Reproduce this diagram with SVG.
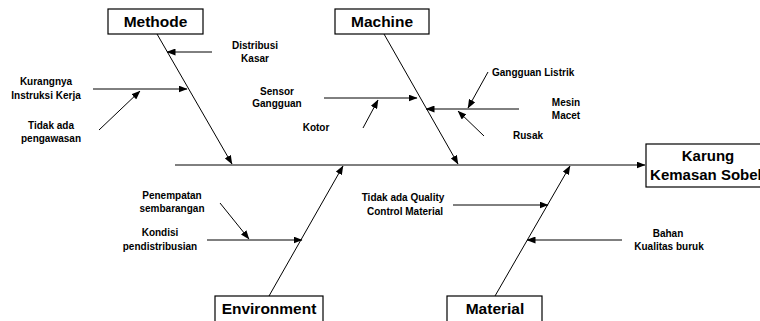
<svg xmlns="http://www.w3.org/2000/svg" width="760" height="321" viewBox="0 0 760 321">
<style>
.box{fill:#fff;stroke:#000;stroke-width:1.2}
.big{font-family:"Liberation Sans",Arial,sans-serif;font-weight:bold;font-size:15.5px;text-anchor:middle;fill:#000}
.eff{font-family:"Liberation Sans",Arial,sans-serif;font-weight:bold;font-size:15px;text-anchor:middle;fill:#000}
.lbl{font-family:"Liberation Sans",Arial,sans-serif;font-weight:bold;font-size:10px;text-anchor:middle;fill:#000}
.ln{stroke:#000;stroke-width:1;fill:none;marker-end:url(#ah)}
</style>
<defs>
<marker id="ah" markerUnits="userSpaceOnUse" markerWidth="9" markerHeight="7" refX="8.5" refY="3.5" orient="auto">
<path d="M0,0 L9,3.5 L0,7 z" fill="#000"/>
</marker>
</defs>
<rect width="760" height="321" fill="#fff"/>
<g id="connectors">
<line class="ln" x1="175" y1="165" x2="645" y2="165"/>
<line class="ln" x1="157" y1="34" x2="232" y2="164"/>
<line class="ln" x1="384" y1="34" x2="458" y2="164"/>
<line class="ln" x1="269" y1="296" x2="343" y2="166"/>
<line class="ln" x1="495" y1="296" x2="570" y2="166"/>
<line class="ln" x1="212" y1="52" x2="167" y2="52"/>
<line class="ln" x1="93" y1="89" x2="187" y2="89"/>
<line class="ln" x1="99" y1="130" x2="140" y2="91"/>
<line class="ln" x1="324" y1="98" x2="417" y2="98"/>
<line class="ln" x1="363" y1="128" x2="378" y2="100"/>
<line class="ln" x1="519" y1="109" x2="426" y2="109"/>
<line class="ln" x1="488" y1="72" x2="468" y2="108"/>
<line class="ln" x1="484" y1="136" x2="458" y2="111"/>
<line class="ln" x1="220" y1="203" x2="249" y2="239"/>
<line class="ln" x1="207" y1="240" x2="302" y2="240"/>
<line class="ln" x1="453" y1="205" x2="548" y2="205"/>
<line class="ln" x1="622" y1="240" x2="527" y2="240"/>
</g>
<g id="methode"><rect class="box" x="108" y="9" width="95" height="25"/><text class="big" x="155.5" y="27">Methode</text></g>
<g id="machine"><rect class="box" x="335" y="9" width="94" height="25"/><text class="big" x="382" y="27">Machine</text></g>
<g id="environment"><rect class="box" x="215" y="296" width="108" height="30"/><text class="big" x="269" y="314">Environment</text></g>
<g id="material"><rect class="box" x="447" y="296" width="95" height="30"/><text class="big" x="495" y="314">Material</text></g>
<g id="effect"><rect class="box" x="646" y="144" width="126" height="43"/><text class="eff" x="708" y="161">Karung</text><text class="eff" x="708" y="180">Kemasan Sobek</text></g>
<g id="distribusi-kasar"><text class="lbl" x="255" y="49">Distribusi</text><text class="lbl" x="255" y="62">Kasar</text></g>
<g id="kurangnya-instruksi"><text class="lbl" x="46" y="85">Kurangnya</text><text class="lbl" x="46" y="99">Instruksi Kerja</text></g>
<g id="tidak-ada-pengawasan"><text class="lbl" x="51" y="129">Tidak ada</text><text class="lbl" x="51" y="142">pengawasan</text></g>
<g id="sensor-gangguan"><text class="lbl" x="277" y="95">Sensor</text><text class="lbl" x="277" y="107">Gangguan</text></g>
<g id="kotor"><text class="lbl" x="316" y="131">Kotor</text></g>
<g id="gangguan-listrik"><text class="lbl" x="492" y="76" style="text-anchor:start">Gangguan Listrik</text></g>
<g id="mesin-macet"><text class="lbl" x="566" y="106">Mesin</text><text class="lbl" x="566" y="119">Macet</text></g>
<g id="rusak"><text class="lbl" x="528" y="139">Rusak</text></g>
<g id="penempatan"><text class="lbl" x="172" y="199">Penempatan</text><text class="lbl" x="172" y="212">sembarangan</text></g>
<g id="kondisi"><text class="lbl" x="160" y="236">Kondisi</text><text class="lbl" x="160" y="250">pendistribusian</text></g>
<g id="quality-control"><text class="lbl" x="403" y="201">Tidak ada Quality</text><text class="lbl" x="405" y="215">Control Material</text></g>
<g id="bahan"><text class="lbl" x="668" y="237">Bahan</text><text class="lbl" x="669" y="250">Kualitas buruk</text></g>
</svg>
